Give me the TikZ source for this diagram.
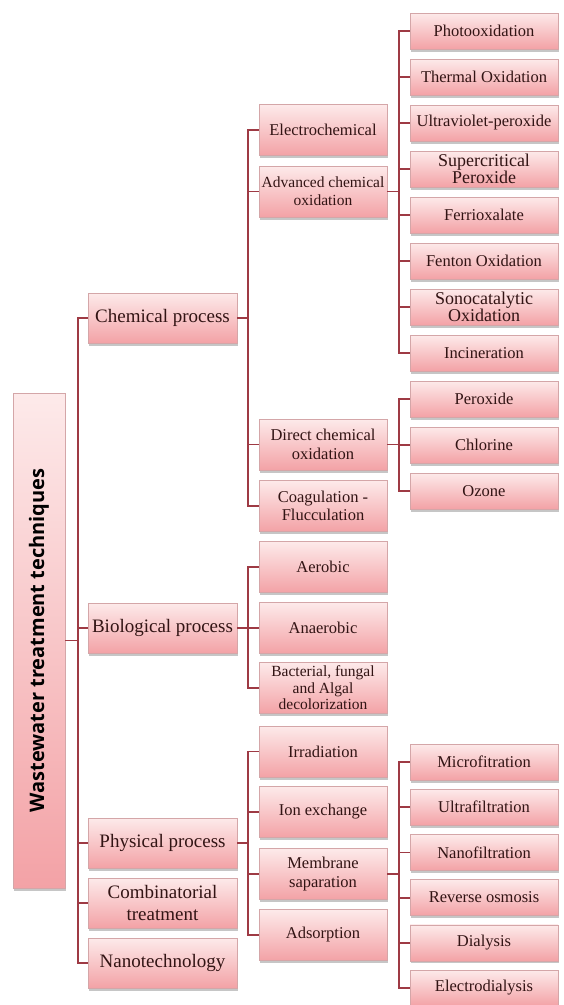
\documentclass[tikz,border=0pt]{standalone}
\usepackage{fontspec}
\setmainfont{Liberation Serif}
\newfontfamily\headfont{Open Sans}
\usepackage{xcolor}
\usetikzlibrary{shadows}
\definecolor{boxtop}{RGB}{253,234,234}
\definecolor{boxbot}{RGB}{243,162,166}
\definecolor{boxedge}{RGB}{212,166,168}
\definecolor{linkred}{RGB}{158,58,68}
\definecolor{boxtext}{RGB}{50,20,20}

\begin{document}
\begin{tikzpicture}[x=1pt, y=-1pt,
  box/.style={draw=boxedge, line width=0.6pt, top color=boxtop, bottom color=boxbot,
    drop shadow={shadow xshift=1pt, shadow yshift=-2.5pt, fill=black!50, opacity=0.45},
    align=center, inner sep=1pt, text=boxtext},
  rootbox/.style={box, minimum width=52pt, minimum height=495pt, text=black,
    font=\headfont\bfseries\fontsize{20}{22}\selectfont},
  lvlone/.style={box, minimum width=149pt, minimum height=50pt, font=\fontsize{19}{21.5}\selectfont},
  lvltwo/.style={box, minimum width=128pt, minimum height=51pt, font=\fontsize{16.5}{18.5}\selectfont},
  lvlthree/.style={box, minimum width=148pt, minimum height=36pt, font=\fontsize{16.5}{18}\selectfont},
  tightthree/.style={lvlthree, inner sep=0pt, font=\fontsize{18}{17.5}\selectfont},
  link/.style={draw=linkred, line width=1.8pt}]
  \useasboundingbox (0,0) rectangle (563,1005);

  % root
  \node[rootbox] (root) at (39,640.5) {\rotatebox{90}{Wastewater treatment techniques}};

  % first level
  \node[lvlone] (chem) at (162.5,318) {Chemical process};
  \node[lvlone] (bio)  at (162.5,628) {Biological process};
  \node[lvlone] (phys) at (162.5,843) {Physical process};
  \node[lvlone] (comb) at (162.5,903) {Combinatorial\\treatment};
  \node[lvlone] (nano) at (162.5,963) {Nanotechnology};

  % second level: chemical
  \node[lvltwo] (electro)  at (323,130)   {Electrochemical};
  \node[lvltwo, font=\fontsize{15.5}{18}\selectfont] (advox) at (323,191.5) {Advanced chemical\\oxidation};
  \node[lvltwo] (directox) at (323,444.5) {Direct chemical\\oxidation};
  \node[lvltwo] (coag)     at (323,506)   {Coagulation -\\Flucculation};
  % second level: biological
  \node[lvltwo] (aerobic)   at (323,567) {Aerobic};
  \node[lvltwo] (anaerobic) at (323,628) {Anaerobic};
  \node[lvltwo, inner sep=0pt, font=\fontsize{15.5}{16.5}\selectfont] (bacterial) at (323,688) {Bacterial, fungal\\and Algal\\decolorization};
  % second level: physical
  \node[lvltwo] (irrad)    at (323,751.5) {Irradiation};
  \node[lvltwo] (ionex)    at (323,812)   {Ion exchange};
  \node[lvltwo] (membrane) at (323,874)   {Membrane\\saparation};
  \node[lvltwo] (adsorp)   at (323,935)   {Adsorption};

  % third level: advanced oxidation
  \node[lvlthree] (photo)   at (484,31)  {Photooxidation};
  \node[lvlthree] (thermal) at (484,77)  {Thermal Oxidation};
  \node[lvlthree] (uvper)   at (484,123) {Ultraviolet-peroxide};
  \node[tightthree] (superc) at (484,169) {Supercritical\\Peroxide};
  \node[lvlthree] (ferri)   at (484,215) {Ferrioxalate};
  \node[lvlthree] (fenton)  at (484,261) {Fenton Oxidation};
  \node[tightthree] (sono)  at (484,307) {Sonocatalytic\\Oxidation};
  \node[lvlthree] (incin)   at (484,353) {Incineration};
  % third level: direct oxidation
  \node[lvlthree] (perox) at (484,399) {Peroxide};
  \node[lvlthree] (chlor) at (484,445) {Chlorine};
  \node[lvlthree] (ozone) at (484,491) {Ozone};
  % third level: membranes
  \node[lvlthree] (micro)   at (484,762)   {Microfitration};
  \node[lvlthree] (ultra)   at (484,807.2) {Ultrafiltration};
  \node[lvlthree] (nanof)   at (484,852.4) {Nanofiltration};
  \node[lvlthree] (revosm)  at (484,897.6) {Reverse osmosis};
  \node[lvlthree] (dial)    at (484,942.8) {Dialysis};
  \node[lvlthree] (electrod) at (484,988) {Electrodialysis};

  % connectors
  \foreach \c in {chem,bio,phys,comb,nano}
    \draw[link] (root.east) -- ++(13,0) |- (\c.west);
  \foreach \c in {electro,advox,directox,coag}
    \draw[link] (chem.east) -- ++(11,0) |- (\c.west);
  \foreach \c in {aerobic,anaerobic,bacterial}
    \draw[link] (bio.east) -- ++(11,0) |- (\c.west);
  \foreach \c in {irrad,ionex,membrane,adsorp}
    \draw[link] (phys.east) -- ++(11,0) |- (\c.west);
  \foreach \c in {photo,thermal,uvper,superc,ferri,fenton,sono,incin}
    \draw[link] (advox.east) -- ++(12,0) |- (\c.west);
  \foreach \c in {perox,chlor,ozone}
    \draw[link] (directox.east) -- ++(12,0) |- (\c.west);
  \foreach \c in {micro,ultra,nanof,revosm,dial,electrod}
    \draw[link] (membrane.east) -- ++(12,0) |- (\c.west);
\end{tikzpicture}
\end{document}
